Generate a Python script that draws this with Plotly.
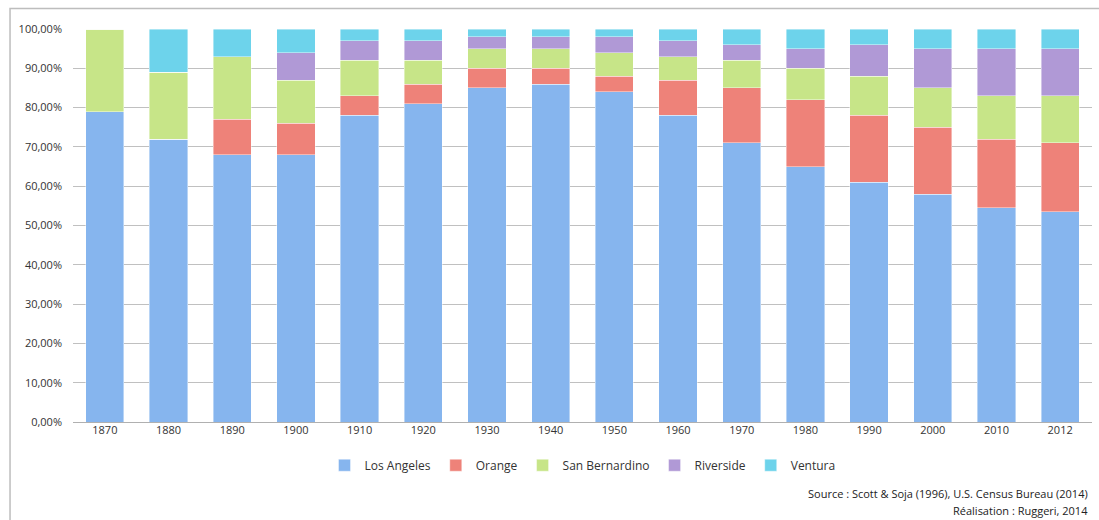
import plotly.graph_objects as go

years = ["1870", "1880", "1890", "1900", "1910", "1920", "1930", "1940",
         "1950", "1960", "1970", "1980", "1990", "2000", "2010", "2012"]

los_angeles    = [0.79, 0.72, 0.68, 0.68, 0.78, 0.81, 0.85, 0.86, 0.84, 0.78, 0.71, 0.65, 0.61, 0.58, 0.545, 0.535]
orange         = [0.00, 0.00, 0.09, 0.08, 0.05, 0.05, 0.05, 0.04, 0.04, 0.09, 0.14, 0.17, 0.17, 0.17, 0.175, 0.175]
san_bernardino = [0.21, 0.17, 0.16, 0.11, 0.09, 0.06, 0.05, 0.05, 0.06, 0.06, 0.07, 0.08, 0.10, 0.10, 0.11, 0.12]
riverside      = [0.00, 0.00, 0.00, 0.07, 0.05, 0.05, 0.03, 0.03, 0.04, 0.04, 0.04, 0.05, 0.08, 0.10, 0.12, 0.12]
ventura        = [0.00, 0.11, 0.07, 0.06, 0.03, 0.03, 0.02, 0.02, 0.02, 0.03, 0.04, 0.05, 0.04, 0.05, 0.05, 0.05]

series = [
    ("Los Angeles", los_angeles, "#86b5ee"),
    ("Orange", orange, "#ee8279"),
    ("San Bernardino", san_bernardino, "#c7e588"),
    ("Riverside", riverside, "#b099d6"),
    ("Ventura", ventura, "#6dd3eb"),
]

FONT = "Open Sans, Liberation Sans, sans-serif"

fig = go.Figure()
for name, vals, color in series:
    fig.add_trace(go.Bar(
        x=years, y=vals, name=name,
        marker=dict(color=color, line=dict(color="rgba(255,255,255,0.7)", width=0.6)),
    ))

fig.update_layout(
    barmode="stack",
    bargap=0.4,
    width=1099, height=520,
    margin=dict(l=73, r=7, t=29, b=98),
    paper_bgcolor="white",
    plot_bgcolor="white",
    separators=", ",
    font=dict(family=FONT, size=11, color="#333333"),
    showlegend=True,
    legend=dict(
        orientation="h", x=0.5, xanchor="center", y=-0.11, yanchor="middle",
        traceorder="normal",
        font=dict(family=FONT, size=12, color="#333333"),
        itemwidth=30, tracegroupgap=0,
    ),
    xaxis=dict(
        type="category", showgrid=False, showline=False, ticks="",
        tickfont=dict(family=FONT, size=11, color="#333333"),
    ),
    yaxis=dict(
        range=[0, 1.0], dtick=0.1, tickformat=".2%",
        showgrid=True, gridcolor="#c0c0c0", gridwidth=1,
        zeroline=True, zerolinecolor="#b0b0b0", zerolinewidth=1,
        showline=False, ticks="", ticklabelstandoff=10,
        tickfont=dict(family=FONT, size=11, color="#333333"),
    ),
    annotations=[
        dict(text="Source : Scott & Soja (1996), U.S. Census Bureau (2014)",
             x=0.998, y=-0.183, xref="paper", yref="paper",
             xanchor="right", yanchor="middle", showarrow=False,
             font=dict(family=FONT, size=11, color="#222222")),
        dict(text="Réalisation : Ruggeri, 2014",
             x=0.998, y=-0.226, xref="paper", yref="paper",
             xanchor="right", yanchor="middle", showarrow=False,
             font=dict(family=FONT, size=11, color="#222222")),
    ],
    shapes=[
        dict(type="rect", xref="paper", yref="paper",
             x0=-0.0618, x1=1.03, y0=-0.3, y1=1.052,
             fillcolor="rgba(0,0,0,0)", layer="below",
             line=dict(color="#bdbdbd", width=1.5)),
    ],
)

fig.write_html("out.html", config={"displayModeBar": False})

with open("out.html", "r", encoding="utf-8") as f:
    html = f.read()
html = html.replace("<head>", "<head><style>html,body{margin:0;padding:0;overflow:hidden;}</style>", 1)
with open("out.html", "w", encoding="utf-8") as f:
    f.write(html)
